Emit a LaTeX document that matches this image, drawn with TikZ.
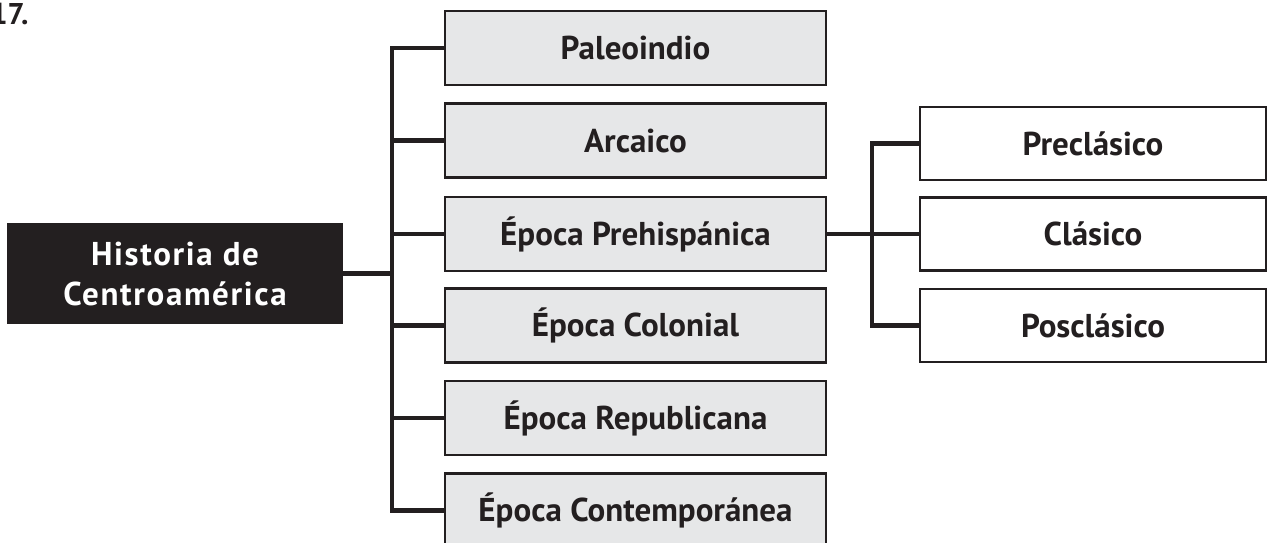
\documentclass[tikz,border=0pt]{standalone}
\usepackage{fontspec}
\setmainfont{PT Sans}
\definecolor{ink}{HTML}{231F20}
\definecolor{boxgray}{HTML}{E6E7E8}
\begin{document}
\begin{tikzpicture}[x=1pt,y=-1pt,
  lbox/.style={draw=ink,line width=2.5pt,fill=boxgray,minimum width=381pt,minimum height=74pt,inner sep=0pt,font=\bfseries\fontsize{33}{38}\selectfont,text=ink},
  rbox/.style={draw=ink,line width=2.5pt,fill=white,minimum width=346pt,minimum height=73pt,inner sep=0pt,font=\bfseries\fontsize{33}{38}\selectfont,text=ink},
  rootbox/.style={fill=ink,minimum width=336pt,minimum height=101pt,inner sep=0pt,text=white,align=center,font=\bfseries\fontsize{33}{40}\selectfont\addfontfeatures{LetterSpace=5}},
  conn/.style={draw=ink,line width=4.5pt}]
\useasboundingbox (0,0) rectangle (1268,542);
\node[anchor=base east,font=\bfseries\fontsize{30}{32}\selectfont,text=ink] (num) at (32,24) {17.};
\node[rootbox] (root) at (175,273.5) {Historia de\\Centroamérica};
\node[lbox] (b1) at (635.5,48) {Paleoindio};
\node[lbox] (b2) at (635.5,140.5) {Arcaico};
\node[lbox] (b3) at (635.5,234) {Época Prehispánica};
\node[lbox] (b4) at (635.5,325.5) {Época Colonial};
\node[lbox] (b5) at (635.5,418) {Época Republicana};
\node[lbox] (b6) at (635.5,510.5) {Época Contemporánea};
\node[rbox] (c1) at (1093,143.5) {Preclásico};
\node[rbox] (c2) at (1093,234) {Clásico};
\node[rbox] (c3) at (1093,325.5) {Posclásico};
\coordinate (t) at (392,0);
\coordinate (s) at (872,0);
\draw[conn] (b1.west) -| (t |- b6.west) -- (b6.west);
\foreach \b in {b2,b3,b4,b5} \draw[conn] (\b.west) -- (t |- \b.west);
\draw[conn] (root.east) -- (t |- root.east);
\draw[conn] (c1.west) -| (s |- c3.west) -- (c3.west);
\draw[conn] (b3.east) -- (c2.west);
\end{tikzpicture}
\end{document}
